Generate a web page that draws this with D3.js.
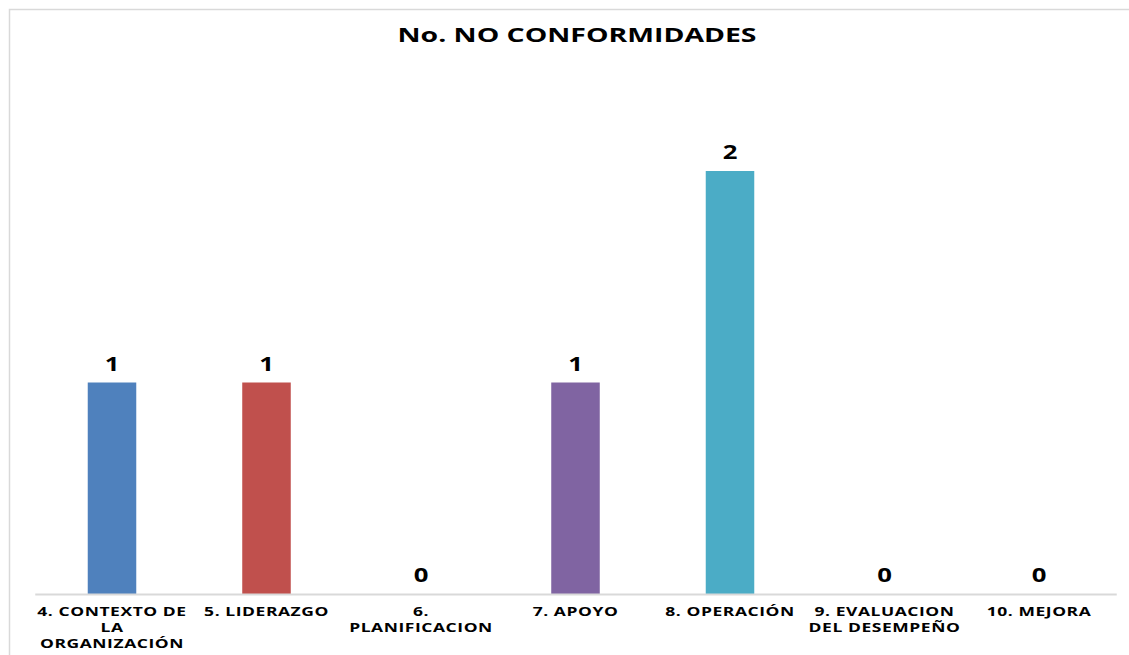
<!DOCTYPE html>
<html>
<head>
<meta charset="utf-8">
<script src="https://cdn.jsdelivr.net/npm/d3@7"></script>
<style>
  html, body { margin: 0; padding: 0; background: #fff; }
  svg { display: block; }
</style>
</head>
<body>
<svg id="chart" width="1129" height="655"></svg>
<script>
const title = "No. NO CONFORMIDADES";
const categories = [
  "4. CONTEXTO DE LA ORGANIZACIÓN",
  "5. LIDERAZGO",
  "6. PLANIFICACION",
  "7. APOYO",
  "8. OPERACIÓN",
  "9. EVALUACION DEL DESEMPEÑO",
  "10. MEJORA"
];
const values = [1, 1, 0, 1, 2, 0, 0];
const colors = ["#4F81BD", "#C0504D", "#9BBB59", "#8064A2", "#4BACC6", "#F79646", "#2C4D75"];

const svg = d3.select("#chart");
const W = 1129, H = 655;
const left = 34.75, right = 1116.25, baseY = 594, topY = 171;
const sx = 1.32;   // horizontal stretch of value-label glyphs
const lsx = 1.42;  // horizontal stretch of category-label glyphs

// chart area border
svg.append("rect")
  .attr("x", 9.5).attr("y", 9.5)
  .attr("width", W + 20).attr("height", H + 20)
  .attr("fill", "#fff").attr("stroke", "#D9D9D9").attr("stroke-width", 1.5);

const x = d3.scaleBand()
  .domain(categories)
  .range([left, right])
  .paddingInner(0.686)
  .paddingOuter(0.343);

const y = d3.scaleLinear().domain([0, 2]).range([baseY, topY]);

// title
svg.append("text")
  .attr("x", 577).attr("y", 42)
  .attr("text-anchor", "middle")
  .attr("font-family", "Open Sans, sans-serif")
  .attr("font-weight", "bold")
  .attr("font-size", 19.5)
  .attr("textLength", 359)
  .attr("lengthAdjust", "spacingAndGlyphs")
  .attr("fill", "#000")
  .text(title);

// bars
svg.append("g").selectAll("rect")
  .data(values)
  .join("rect")
  .attr("x", (d, i) => x(categories[i]))
  .attr("width", x.bandwidth())
  .attr("y", d => y(d))
  .attr("height", d => y(0) - y(d))
  .attr("fill", (d, i) => colors[i]);

// axis
const axis = d3.axisBottom(x).tickSize(0).tickPadding(0).tickFormat("");
const axG = svg.append("g").attr("transform", `translate(0,${baseY})`).call(axis);
axG.select(".domain").attr("stroke", "#D9D9D9").attr("stroke-width", 2);

// category labels with wrapping
const labG = svg.append("g")
  .attr("font-family", "Open Sans, sans-serif")
  .attr("font-weight", "bold")
  .attr("font-size", 12.3)
  .attr("letter-spacing", 0.4)
  .attr("fill", "#000");

categories.forEach((c, i) => {
  const cx = x(c) + x.bandwidth() / 2;
  const g = labG.append("g").attr("transform", `translate(${cx},0) scale(${lsx},1)`);
  const t = g.append("text").attr("x", 0).attr("y", 616).attr("text-anchor", "middle");
  const words = c.split(" ");
  let line = [];
  let ts = t.append("tspan").attr("x", 0).attr("dy", 0);
  const maxW = 155 / lsx;
  words.forEach(w => {
    line.push(w);
    ts.text(line.join(" "));
    if (ts.node().getComputedTextLength() > maxW && line.length > 1) {
      line.pop();
      ts.text(line.join(" "));
      line = [w];
      ts = t.append("tspan").attr("x", 0).attr("dy", 16.2).text(w);
    }
  });
});

// value labels
svg.append("g").selectAll("g")
  .data(values)
  .join("g")
  .attr("transform", (d, i) => `translate(${x(categories[i]) + x.bandwidth() / 2},${y(d) - 12}) scale(${sx},1)`)
  .append("text")
  .attr("text-anchor", "middle")
  .attr("font-family", "Open Sans, sans-serif")
  .attr("font-weight", "bold")
  .attr("font-size", 19.5)
  .attr("fill", "#000")
  .text(d => d);
</script>
</body>
</html>
